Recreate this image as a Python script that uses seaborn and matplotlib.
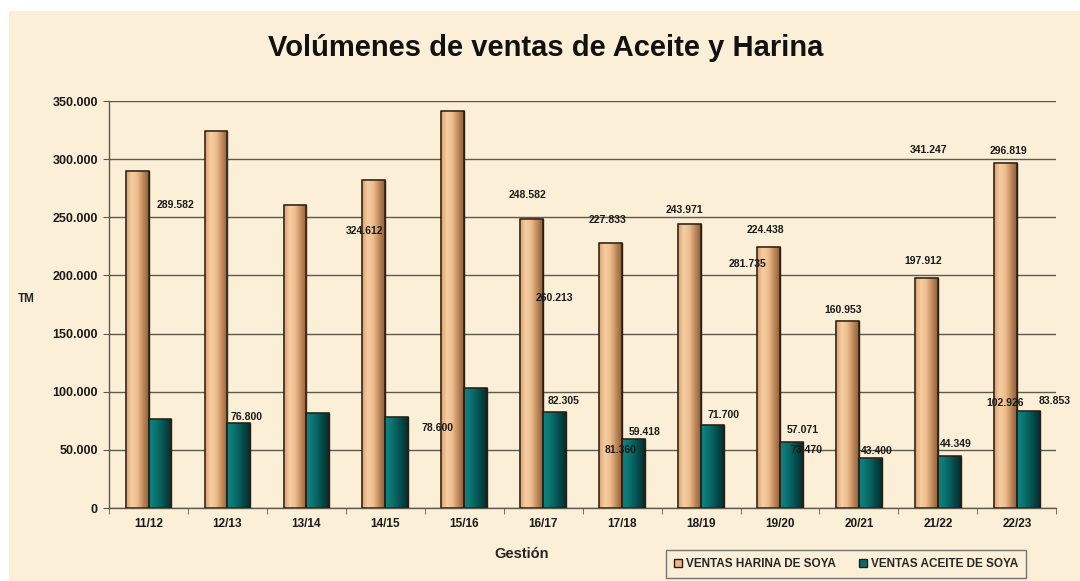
import numpy as np
import pandas as pd
import matplotlib
matplotlib.use("Agg")
import matplotlib.pyplot as plt
import matplotlib.colors as mcolors
from matplotlib.patches import Rectangle
import seaborn as sns

# data
gestiones = ["11/12", "12/13", "13/14", "14/15", "15/16", "16/17",
             "17/18", "18/19", "19/20", "20/21", "21/22", "22/23"]
harina = [289582, 324612, 260213, 281735, 341247, 248582,
          227833, 243971, 224438, 160953, 197912, 296819]
aceite = [76800, 73470, 81360, 78600, 102926, 82305,
          59418, 71700, 57071, 43400, 44349, 83853]
series_names = ["VENTAS HARINA DE SOYA", "VENTAS ACEITE DE SOYA"]

# where the (hand-moved) data labels sit in the original chart, in data units
harina_label_pos = [(0.34, 261000), (2.74, 238500), (5.14, 180600), (7.59, 209800),
                    (9.88, 307900), (4.80, 269200), (5.82, 247700), (6.79, 256300),
                    (7.81, 239100), (8.80, 170300), (9.82, 212400), (10.89, 307300)]
aceite_label_pos = [(1.24, 78300), (8.33, 49900), (5.98, 49900), (3.66, 69100),
                    (10.85, 90600), (5.26, 92300), (6.28, 65600), (7.29, 80000),
                    (8.29, 67100), (9.23, 49300), (10.23, 55000), (11.48, 92300)]

df = pd.DataFrame({
    "Gestión": gestiones * 2,
    "TM": harina + aceite,
    "serie": [series_names[0]] * len(harina) + [series_names[1]] * len(aceite),
})

BG = "#FBEFD8"
TAN = "#EBB888"
TEAL = "#0A6B6A"
EDGE = "#2A1E14"
GRID = "#5F5A4E"
gradients = [
    ["#DDA06C", "#F6CFA3", "#EDBC8C", "#C08A5C", "#8E603A"],
    ["#0D8482", "#0B7775", "#08605F", "#044746", "#022E2D"],
]

sns.set_style("white")
plt.rcParams["font.family"] = ["Liberation Sans", "DejaVu Sans"]

fig = plt.figure(figsize=(10.8, 5.81), dpi=100)
fig.patch.set_facecolor("white")
fig.patches.append(Rectangle((9 / 1080, 0), 1, 1 - 11 / 581, transform=fig.transFigure,
                             facecolor=BG, edgecolor="none", zorder=-10))
ax = fig.add_axes([0.101, 0.1256, 0.877, 0.7004])
ax.set_facecolor("none")

sns.barplot(data=df, x="Gestión", y="TM", hue="serie", palette=[TAN, TEAL],
            saturation=1, width=0.58, gap=0, edgecolor=EDGE, linewidth=1.0, ax=ax,
            legend=True, zorder=3)

# cylinder-like shading on each bar
for container, colors in zip(ax.containers, gradients):
    cmap = mcolors.LinearSegmentedColormap.from_list("g", colors)
    for patch in container:
        x0, y0 = patch.get_x(), patch.get_y()
        w, h = patch.get_width(), patch.get_height()
        img = ax.imshow(np.linspace(0, 1, 64).reshape(1, -1), cmap=cmap, aspect="auto",
                        extent=[x0, x0 + w, y0, y0 + h], zorder=3.5)
        img.set_clip_path(patch)
        ax.add_patch(Rectangle((x0, y0), w, h, facecolor="none", edgecolor=EDGE,
                               linewidth=1.1, zorder=3.6))

ax.set_xlim(-0.5, len(gestiones) - 0.5)
ax.set_ylim(0, 350000)
ax.set_yticks(np.arange(0, 350001, 50000))
ax.set_yticklabels(["0"] + [f"{v:,.0f}".replace(",", ".") for v in range(50000, 350001, 50000)])
ax.yaxis.grid(True, color=GRID, linewidth=1.0, zorder=0)
ax.xaxis.grid(False)
for s in ["top", "right"]:
    ax.spines[s].set_visible(False)
for s in ["left", "bottom"]:
    ax.spines[s].set_color(GRID)
    ax.spines[s].set_linewidth(1.0)

ax.tick_params(axis="y", length=4, color=GRID, labelsize=9, pad=4, left=True)
ax.tick_params(axis="x", length=0, labelsize=8.5, pad=7)
ax.set_xticks(np.arange(-0.5, len(gestiones), 1), minor=True)
ax.tick_params(axis="x", which="minor", length=4, color=GRID, bottom=True)
for lab in ax.get_xticklabels() + ax.get_yticklabels():
    lab.set_fontweight("bold")
    lab.set_color("#1A1A1A")

ax.set_xlabel("Gestión", fontsize=10.5, fontweight="bold")
ax.xaxis.set_label_coords(0.436, -0.095)
ax.set_ylabel("TM", fontsize=8.5, fontweight="bold", rotation=0, labelpad=0)
ax.yaxis.set_label_coords(-0.087, 0.5)

for val, (lx, ly) in zip(harina, harina_label_pos):
    ax.text(lx, ly, f"{val:,}".replace(",", "."), ha="center", va="center",
            fontsize=7.5, fontweight="bold", color="#1A1A1A", zorder=5)
for val, (lx, ly) in zip(aceite, aceite_label_pos):
    ax.text(lx, ly, f"{val:,}".replace(",", "."), ha="center", va="center",
            fontsize=7.5, fontweight="bold", color="#1A1A1A", zorder=5)

fig.text(0.505, 0.917, "Volúmenes de ventas de Aceite y Harina", ha="center", va="center",
         fontsize=21, fontweight="bold", color="#111111")

handles, labels = ax.get_legend_handles_labels()
ax.legend(handles, labels, loc="center", bbox_to_anchor=(0.778, -0.138), ncol=2,
          frameon=True, fancybox=False, edgecolor="#555555", facecolor=BG,
          prop={"size": 8.5, "weight": "bold"}, handlelength=0.7, handleheight=0.7,
          handletextpad=0.3, columnspacing=2.0, borderpad=0.7)
leg = ax.get_legend()
leg.get_frame().set_linewidth(1.0)

fig.savefig("out.png", dpi=100, facecolor=fig.get_facecolor())
